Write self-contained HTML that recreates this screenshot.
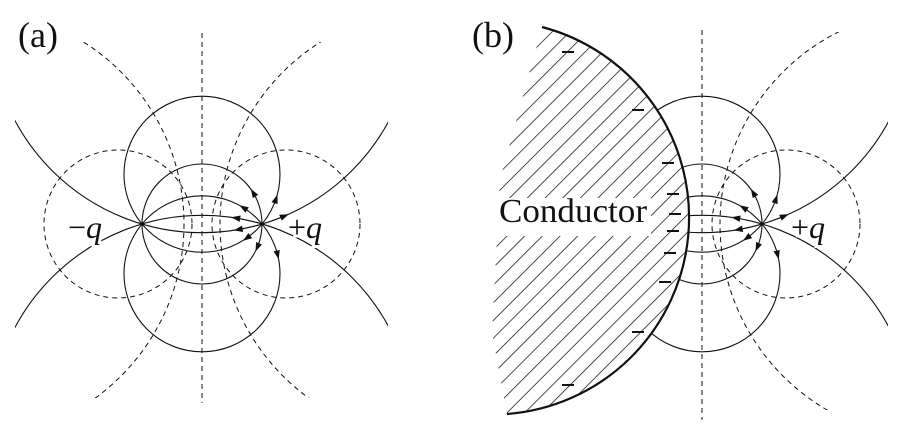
<!DOCTYPE html>
<html><head><meta charset="utf-8"><style>
html,body{margin:0;padding:0;background:#fff;width:904px;height:426px;overflow:hidden;}
svg{display:block;}
text{font-family:"Liberation Serif","DejaVu Serif",serif;fill:#111;}
</style></head><body>
<svg id="fig" width="904" height="426" viewBox="0 0 904 426" xmlns="http://www.w3.org/2000/svg">
<defs>
  <clipPath id="clipX"><rect x="15" y="0" width="373" height="426"/></clipPath>
  <clipPath id="clipYa"><rect x="0" y="42" width="460" height="356"/></clipPath>
  <clipPath id="clipYb"><rect x="0" y="32" width="460" height="378"/></clipPath>
  <mask id="maskB"><rect x="540" y="0" width="364" height="426" fill="#fff"/><circle cx="493" cy="218" r="197" fill="#000"/></mask>
  <pattern id="hatch" patternUnits="userSpaceOnUse" width="12.5" height="12.5" patternTransform="rotate(-45)">
    <line x1="0" y1="0" x2="12.5" y2="0" stroke="#111" stroke-width="1.5"/>
  </pattern>
</defs>

<!-- Panel A -->
<g id="panelA">
  <line x1="202" y1="33" x2="202" y2="403" stroke="#111" stroke-width="1" stroke-dasharray="5 4"/>
  <g id="fieldA"></g>
  <g id="equiA"></g>
  <text x="18" y="47" font-size="36" font-family="Liberation Serif, DejaVu Serif, serif">(a)</text>
  <text x="68" y="238" font-size="32" font-family="Liberation Serif, DejaVu Serif, serif" stroke="#fff" stroke-width="6" paint-order="stroke">−<tspan font-style="italic">q</tspan></text>
  <text x="288" y="238" font-size="32" font-family="Liberation Serif, DejaVu Serif, serif" stroke="#fff" stroke-width="6" paint-order="stroke">+<tspan font-style="italic">q</tspan></text>
</g>

<!-- Panel B -->
<g id="panelB">
  <path d="M542,27 L500,180 L492,333 L507,414 A197,197 0 0 0 542,27 Z" fill="url(#hatch)"/>
  <path d="M542,27 A197,197 0 0 1 507,414" fill="none" stroke="#111" stroke-width="2.2"/>
  <line x1="702" y1="30" x2="702" y2="420" stroke="#111" stroke-width="1" stroke-dasharray="5 4"/>
  <g mask="url(#maskB)"><g id="fieldB" transform="translate(500,0)"></g></g>
  <g id="equiB" transform="translate(500,0)"></g>
  <g id="minusB"></g>
  <rect x="496" y="198" width="155" height="38" fill="#fff"/>
  <text x="499" y="222" font-size="34" font-family="Liberation Serif, DejaVu Serif, serif" textLength="148" lengthAdjust="spacingAndGlyphs">Conductor</text>
  <text x="472" y="47" font-size="36" font-family="Liberation Serif, DejaVu Serif, serif">(b)</text>
  <text x="791" y="238" font-size="32" font-family="Liberation Serif, DejaVu Serif, serif" stroke="#fff" stroke-width="6" paint-order="stroke">+<tspan font-style="italic">q</tspan></text>
</g>
</svg>
<script>
const NS="http://www.w3.org/2000/svg";
const QX=262, QY=224, MX=202, A=60;
// field circles: [cx, cy, r, clipToX]
const fieldCircles=[[202,224,60,false],[202,174.2,78,false],[202,273.8,78,false],[202,20.7,212,true],[202,427.3,212,true]];
// arrows: circle index, arc offset from +q (px, signed)
const arrowCircle=[0,0,1,1,2,2,3,3,4];
const arrowArc=[-33,24,-29,21,35,-25,-24,24.5,-27];
// equipotential circles
const equiLeft=[[118,224,74,false],[-31,224,215,true]];
const equiRight=[[286,224,74,false],[435,224,215,true]];
// surface charge positions
const minusX=[568,638,668,673,675,673,670,665,638,568];
const minusY=[52,110,163,194,214,231,253,282,332,385];

function circ(parent,c,dashed,clipId,name){
  const e=document.createElementNS(NS,'circle');
  e.setAttribute('cx',c[0]);e.setAttribute('cy',c[1]);e.setAttribute('r',c[2]);
  e.setAttribute('fill','none');e.setAttribute('stroke','#111');
  e.setAttribute('stroke-width',dashed?1:1.1);
  if(dashed)e.setAttribute('stroke-dasharray','5 4');
  if(c[3])e.setAttribute('clip-path','url(#'+clipId+')');
  
  
  parent.appendChild(e);
}
function arrows(parent){
  for(let i=0;i<arrowArc.length;i++){
    const c=fieldCircles[arrowCircle[i]];
    const tq=Math.atan2(QY-c[1],QX-c[0]);
    const t=tq+arrowArc[i]/c[2];
    const px=c[0]+c[2]*Math.cos(t), py=c[1]+c[2]*Math.sin(t);
    const s=Math.sign(arrowArc[i]);
    const dx=-Math.sin(t)*s, dy=Math.cos(t)*s;
    const L=9,W=3.2;
    const tx=px+dx*L/2, ty=py+dy*L/2, bx=px-dx*L/2, by=py-dy*L/2;
    const p=document.createElementNS(NS,'polygon');
    p.setAttribute('points',`${tx},${ty} ${bx-dy*W},${by+dx*W} ${bx+dy*W},${by-dx*W}`);
    p.setAttribute('fill','#111');
    
    
    parent.appendChild(p);
  }
}
const fA=document.getElementById('fieldA'), fB=document.getElementById('fieldB');
fieldCircles.forEach(c=>{circ(fA,c,false,'clipX','field-line');circ(fB,c,false,'clipX','field-line');});
arrows(fA);arrows(fB);
const eA=document.getElementById('equiA'), eB=document.getElementById('equiB');
equiLeft.forEach(c=>circ(eA,c,true,'clipYa','equipotential'));
equiRight.forEach(c=>{circ(eA,c,true,'clipYa','equipotential');circ(eB,c,true,'clipYb','equipotential');});
const mB=document.getElementById('minusB');
for(let i=0;i<minusX.length;i++){
  const l=document.createElementNS(NS,'line');
  l.setAttribute('x1',minusX[i]-6);l.setAttribute('x2',minusX[i]+6);
  l.setAttribute('y1',minusY[i]);l.setAttribute('y2',minusY[i]);
  l.setAttribute('stroke','#111');l.setAttribute('stroke-width','2');
  
  
  mB.appendChild(l);
}
</script>
</body></html>
